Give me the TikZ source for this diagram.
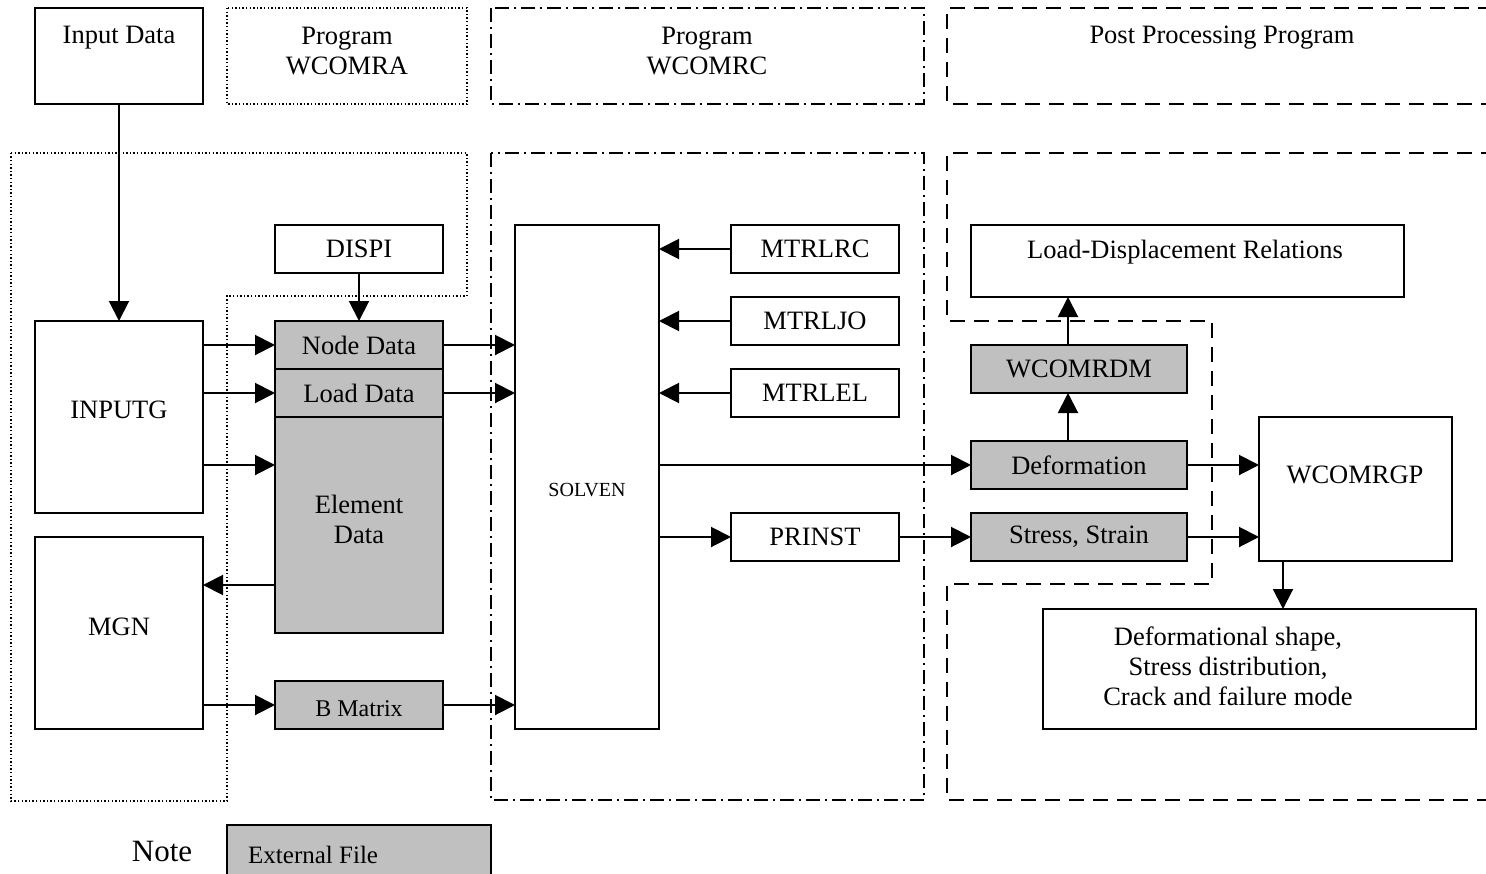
\documentclass[tikz,border=0pt]{standalone}
\usepackage{fontspec}
\setmainfont{Liberation Serif}
\usetikzlibrary{arrows.meta}
\definecolor{filegray}{RGB}{192,192,192}
\begin{document}
\begin{tikzpicture}[x=1pt,y=-1pt,
  mainfont/.style={font=\fontsize{26.5}{30}\selectfont},
  box/.style={draw,line width=2pt,inner sep=0pt,outer sep=0pt,align=center,mainfont},
  filebox/.style={box,fill=filegray},
  txt/.style={inner sep=0pt,align=center,mainfont},
  arr/.style={line width=2pt,-{Triangle[length=20pt,width=20pt]}},
  dotline/.style={line width=1.4pt,dash pattern=on 1.4pt off 2.2pt},
  dashdotline/.style={line width=1.8pt,dash pattern=on 14pt off 5pt on 2pt off 5pt},
  dashline/.style={line width=1.8pt,dash pattern=on 15pt off 9pt}
]
\useasboundingbox (0,0) rectangle (1486,873);
\clip (0,0) rectangle (1486,873);

% ---------- legend row ----------
\node[box,minimum width=168pt,minimum height=96pt] (inputdata) at (119,56) {};
\node[txt] (inputdata-t) at (119,38) {Input Data};
\draw[dotline] (227,8) rectangle (467,104);
\node[txt] (wcomra-t) at (347,51) {Program\\WCOMRA};
\draw[dashdotline] (491,8) rectangle (924,104);
\node[txt] (wcomrc-t) at (707,51) {Program\\WCOMRC};
\draw[dashline] (1520,104) -- (947,104) -- (947,8) -- (1520,8);
\node[txt] (post-t) at (1222,38) {Post Processing Program};

% ---------- regions ----------
\draw[dotline] (11,153) -- (467,153) -- (467,296) -- (227,296) -- (227,801) -- (11,801) -- cycle;
\draw[dashdotline] (491,153) rectangle (924,800);
\draw[dashline] (1520,153) -- (947,153) -- (947,321) -- (1212,321) -- (1212,584) -- (947,584) -- (947,800) -- (1520,800);

% ---------- WCOMRA ----------
\node[box,minimum width=168pt,minimum height=192pt] (inputg) at (119,417) {};
\node[txt] (inputg-t) at (119,410) {INPUTG};
\node[box,minimum width=168pt,minimum height=192pt] (mgn) at (119,633) {};
\node[txt] (mgn-t) at (119,627) {MGN};
\node[box,minimum width=168pt,minimum height=48pt] (dispi) at (359,249) {DISPI};
\node[filebox,minimum width=168pt,minimum height=48pt] (nodedata) at (359,345) {Node Data};
\node[filebox,minimum width=168pt,minimum height=48pt] (loaddata) at (359,393) {Load Data};
\node[filebox,minimum width=168pt,minimum height=216pt] (elemdata) at (359,525) {};
\node[txt] (elemdata-t) at (359,519) {Element\\Data};
\node[filebox,minimum width=168pt,minimum height=48pt] (bmatrix) at (359,705) {};
\node[txt,font=\fontsize{24}{28}\selectfont] (bmatrix-t) at (359,709) {B Matrix};

% ---------- WCOMRC ----------
\node[box,minimum width=144pt,minimum height=504pt] (solven) at (587,477) {};
\node[txt,font=\fontsize{20}{24}\selectfont] (solven-t) at (587,490) {SOLVEN};
\node[box,minimum width=168pt,minimum height=48pt] (mtrlrc) at (815,249) {MTRLRC};
\node[box,minimum width=168pt,minimum height=48pt] (mtrljo) at (815,321) {MTRLJO};
\node[box,minimum width=168pt,minimum height=48pt] (mtrlel) at (815,393) {MTRLEL};
\node[box,minimum width=168pt,minimum height=48pt] (prinst) at (815,537) {PRINST};

% ---------- post processing ----------
\node[box,minimum width=433pt,minimum height=72pt] (ldrel) at (1187.5,261) {};
\node[txt] (ldrel-t) at (1185,252) {Load-Displacement Relations};
\node[filebox,minimum width=216pt,minimum height=48pt] (wcomrdm) at (1079,369) {WCOMRDM};
\node[filebox,minimum width=216pt,minimum height=48pt] (deform) at (1079,465) {Deformation};
\node[filebox,minimum width=216pt,minimum height=48pt] (stress) at (1079,537) {Stress, Strain};
\node[box,minimum width=193pt,minimum height=144pt] (wcomrgp) at (1355.5,489) {};
\node[txt] (wcomrgp-t) at (1355,475) {WCOMRGP};
\node[box,minimum width=433pt,minimum height=120pt] (shape) at (1259.5,669) {};
\node[txt] (shape-t) at (1228,666) {Deformational shape,\\Stress distribution,\\Crack and failure mode};

% ---------- note ----------
\node[txt,font=\fontsize{31}{36}\selectfont] (note) at (162,851) {Note};
\node[filebox,minimum width=264pt,minimum height=56pt] (extfile) at (359,853) {};
\node[txt,font=\fontsize{25}{30}\selectfont,anchor=west] (extfile-t) at (248,855) {External File};

% ---------- helper coordinates ----------
\coordinate (yelem) at (0,465);
\coordinate (ymgn) at (0,585);
\coordinate (xup) at (1068,0);
\coordinate (xdown) at (1283,0);

% ---------- connectors ----------
\draw[arr] (inputdata.south) -- (inputg.north);
\draw[arr] (dispi.south) -- (nodedata.north);
\draw[arr] (inputg.east |- nodedata.west) -- (nodedata.west);
\draw[arr] (inputg.east |- loaddata.west) -- (loaddata.west);
\draw[arr] (inputg.east |- yelem) -- (elemdata.west |- yelem);
\draw[arr] (elemdata.west |- ymgn) -- (mgn.east |- ymgn);
\draw[arr] (mgn.east |- bmatrix.west) -- (bmatrix.west);
\draw[arr] (nodedata.east) -- (solven.west |- nodedata.east);
\draw[arr] (loaddata.east) -- (solven.west |- loaddata.east);
\draw[arr] (bmatrix.east) -- (solven.west |- bmatrix.east);
\draw[arr] (mtrlrc.west) -- (solven.east |- mtrlrc.west);
\draw[arr] (mtrljo.west) -- (solven.east |- mtrljo.west);
\draw[arr] (mtrlel.west) -- (solven.east |- mtrlel.west);
\draw[arr] (solven.east |- deform.west) -- (deform.west);
\draw[arr] (solven.east |- prinst.west) -- (prinst.west);
\draw[arr] (prinst.east) -- (stress.west);
\draw[arr] (deform.north -| xup) -- (wcomrdm.south -| xup);
\draw[arr] (wcomrdm.north -| xup) -- (ldrel.south -| xup);
\draw[arr] (deform.east) -- (wcomrgp.west |- deform.east);
\draw[arr] (stress.east) -- (wcomrgp.west |- stress.east);
\draw[arr] (wcomrgp.south -| xdown) -- (shape.north -| xdown);
\end{tikzpicture}
\end{document}
